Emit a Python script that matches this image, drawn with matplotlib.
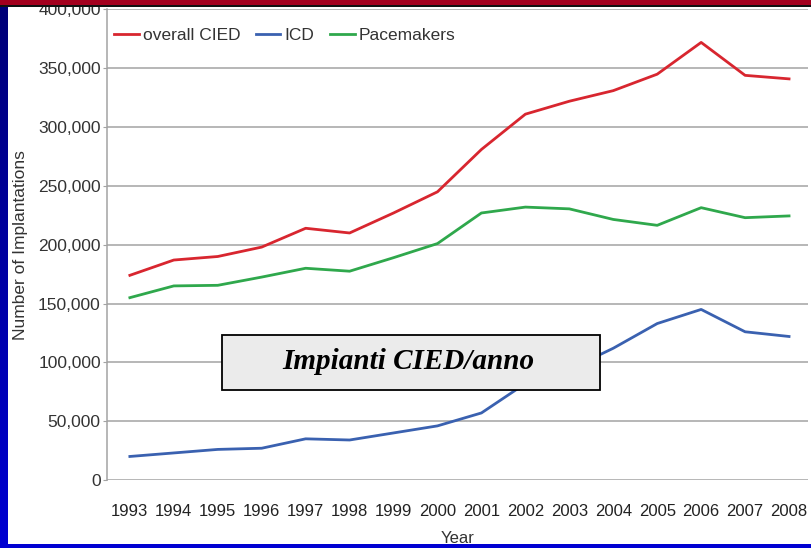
import numpy as np
import matplotlib
matplotlib.use("Agg")
import matplotlib.pyplot as plt
from matplotlib.patches import Rectangle
from matplotlib.ticker import FuncFormatter

# values
years = list(range(1993, 2009))
overall_cied = [174000, 187000, 190000, 198000, 214000, 210000, 227000, 245000,
                281000, 311000, 322000, 331000, 345000, 372000, 344000, 341000]
icd = [20000, 23000, 26000, 27000, 35000, 34000, 40000, 46000,
       57000, 82000, 94000, 112000, 133000, 145000, 126000, 122000]
pacemakers = [155000, 165000, 165500, 172500, 180000, 177500, 189000, 201000,
              227000, 232000, 230500, 221500, 216500, 231500, 223000, 224500]
y_ticks = [0, 50000, 100000, 150000, 200000, 250000, 300000, 350000, 400000]

plt.rcParams['font.family'] = ['Liberation Sans', 'DejaVu Sans']

fig = plt.figure(figsize=(8.12, 5.48), dpi=100)
ax = fig.add_axes([0.1318, 0.1241, 0.8632, 0.8586])

ax.plot(years, overall_cied, color="#d8262f", lw=2.0, label="overall CIED")
ax.plot(years, icd, color="#3a61b0", lw=2.0, label="ICD")
ax.plot(years, pacemakers, color="#2fa84c", lw=2.0, label="Pacemakers")

ax.set_xlim(1992.48, 2008.43)
ax.set_ylim(0, 400000)
ax.set_xticks(years)
ax.set_yticks(y_ticks)
ax.yaxis.set_major_formatter(FuncFormatter(lambda v, p: f"{int(v):,}"))
ax.grid(axis="y", color="#a3a3a3", lw=1.1)
ax.set_axisbelow(True)
for s in ["top", "right", "bottom"]:
    ax.spines[s].set_visible(False)
ax.spines["left"].set_color("#a3a3a3")
ax.spines["left"].set_linewidth(1.1)
ax.tick_params(axis="x", length=0, pad=17, labelsize=12, labelcolor="#222222")
ax.tick_params(axis="y", length=3, color="#a3a3a3", pad=1.5, labelsize=12.5, labelcolor="#333333")

ax.set_xlabel("Year", fontsize=12, color="#333333", labelpad=9)
ax.set_ylabel("Number of Implantations", fontsize=12.5, color="#333333")
ax.yaxis.set_label_coords(-0.113, 0.5)

ax.legend(loc="upper left", ncol=3, frameon=False, fontsize=12.5,
          handlelength=1.4, handletextpad=0.25, columnspacing=0.9,
          bbox_to_anchor=(-0.012, 0.995), labelcolor="#333333")

# grey caption box
ax.add_patch(Rectangle((0.1636, 0.1913), 0.5397, 0.1169, transform=ax.transAxes,
                       facecolor="#ebebeb", edgecolor="black", lw=1.3, zorder=5))
ax.text(0.4294, 0.2508, "Impianti CIED/anno", transform=ax.transAxes,
        ha="center", va="center", fontsize=21, family="Liberation Serif",
        fontweight="bold", fontstyle="italic", zorder=6)

# slide frame: red strip at top, blue bands left and bottom
fig.add_artist(Rectangle((0, 1 - 5 / 548), 1, 5 / 548, transform=fig.transFigure,
                         facecolor="#a3001e", edgecolor="none", zorder=10))
fig.add_artist(Rectangle((0, 1 - 7 / 548), 1, 2 / 548, transform=fig.transFigure,
                         facecolor="#111111", edgecolor="none", zorder=10))
band = fig.add_axes([0, 0, 8 / 812, 1 - 7 / 548])
band.set_zorder(-1)
band.imshow(np.linspace(0, 1, 100).reshape(-1, 1), aspect="auto",
            cmap=matplotlib.colors.LinearSegmentedColormap.from_list("b", ["#000078", "#0000d2"]))
band.axis("off")
fig.add_artist(Rectangle((0, 0), 1, 4 / 548, transform=fig.transFigure,
                         facecolor="#0000d2", edgecolor="none", zorder=10))

fig.savefig("out.png", dpi=100)
